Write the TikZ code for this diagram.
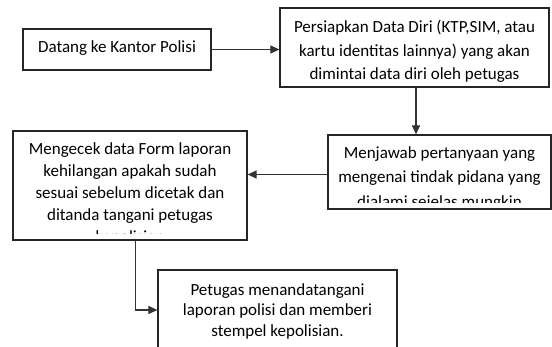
\documentclass[tikz,border=0pt]{standalone}
\usepackage{fontspec}
\setmainfont{Carlito}
\usetikzlibrary{arrows.meta}
\begin{document}
\begin{tikzpicture}[x=1pt,y=-1pt,
  box/.style={draw=black!85, line width=1.2pt, fill=white, inner sep=0pt},
  label/.style={align=center, inner sep=0pt, text=black},
  flow/.style={draw=black!80, line width=1.1pt, -{Triangle[length=9pt,width=8pt]}},
  wide/.style={font=\fontsize{17}{23.5}\selectfont},
  tight/.style={font=\fontsize{17}{22}\selectfont}]
  \useasboundingbox (0,0) rectangle (552,347);
  \clip (0,0) rectangle (552,347);

  % step boxes
  \node[box, minimum width=188pt, minimum height=41pt] (b1) at (117,49.5) {};
  \node[box, minimum width=269pt, minimum height=79pt] (b2) at (414.5,47.5) {};
  \node[box, minimum width=223pt, minimum height=74pt] (b3) at (439.5,172) {};
  \node[box, minimum width=234pt, minimum height=109pt] (b4) at (130,185.5) {};
  \node[box, minimum width=239pt, minimum height=80pt] (b5) at (277.5,310) {};

  % texts
  \node[label, wide] (t1) at ([yshift=1pt]b1.center) {Datang ke Kantor Polisi};
  \node[label, wide] (t2) at ([yshift=-4pt]b2.center) {Persiapkan Data Diri (KTP,SIM, atau\\kartu identitas lainnya) yang akan\\dimintai data diri oleh petugas};
  \begin{scope}
    \clip (328,135) rectangle (551,202.5);
    \node[label, font=\fontsize{17}{24.5}\selectfont, anchor=north] (t3) at (439.5,146) {Menjawab pertanyaan yang\\mengenai tindak pidana yang\\dialami sejelas mungkin};
  \end{scope}
  \begin{scope}
    \clip (13,131) rectangle (247,234);
    \node[label, tight, anchor=north] (t4) at (130,142.5) {Mengecek data Form laporan\\kehilangan apakah sudah\\sesuai sebelum dicetak dan\\ditanda tangani petugas\\kepolisian};
  \end{scope}
  \node[label, font=\fontsize{17}{20.8}\selectfont, anchor=north] (t5) at (277.5,283) {Petugas menandatangani\\laporan polisi dan memberi\\stempel kepolisian.};

  % connectors
  \draw[flow] (b1.east) -- (b1.east -| b2.west);
  \draw[flow] ([xshift=1.5pt]b2.south) -- ([xshift=1.5pt]b2.south |- b3.north);
  \draw[flow] ([yshift=-2.5pt]b3.west) -- ([yshift=-2.5pt]b3.west -| b4.east);
  \draw[flow] ([xshift=5.5pt]b4.south) |- (b5.west);
\end{tikzpicture}
\end{document}
